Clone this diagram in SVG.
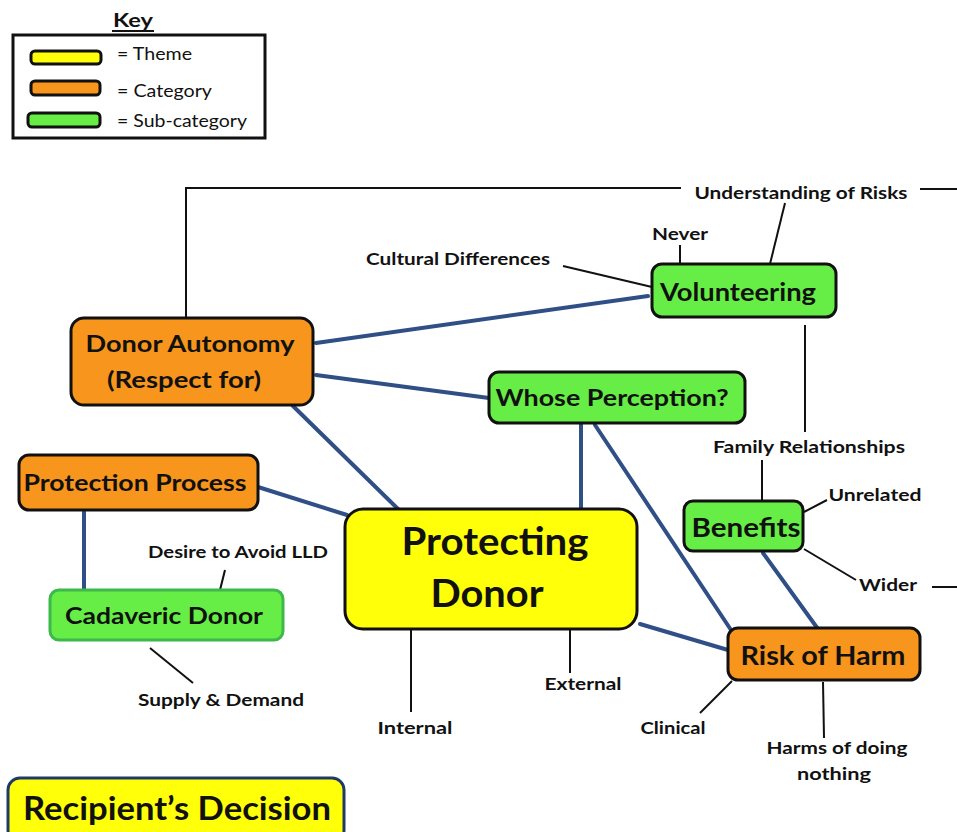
<svg xmlns="http://www.w3.org/2000/svg" width="957" height="832" viewBox="0 0 957 832">
<style>
.lbl{font-family:Lato,"Open Sans","Liberation Sans",sans-serif;font-weight:bold;font-size:17px;fill:#111;text-anchor:middle}
.ntx{font-family:Lato,"Open Sans","Liberation Sans",sans-serif;font-weight:bold;fill:#111;text-anchor:middle}
.key{font-family:Lato,"Open Sans","Liberation Sans",sans-serif;font-size:17px;fill:#111}
.orange{fill:#F7951C;stroke:#111;stroke-width:3}
.yellow{fill:#FFFF0A;stroke:#111;stroke-width:3}
.green{fill:#66EE46;stroke:#111;stroke-width:3}
.blue{stroke:#2F4F86;stroke-width:4;fill:none;stroke-linecap:round}
.thin{stroke:#111;stroke-width:2;fill:none}
</style>
<rect width="957" height="832" fill="#fff"/>
<g id="key">
<text class="ntx" x="133" y="27" font-size="19" textLength="40" lengthAdjust="spacingAndGlyphs">Key</text>
<line x1="112" y1="31" x2="154" y2="31" stroke="#111" stroke-width="2"/>
<rect x="13" y="35" width="252" height="103" fill="#fff" stroke="#111" stroke-width="3"/>
<rect x="31" y="51" width="70" height="13" rx="4" class="yellow" stroke-width="2.5"/>
<rect x="31" y="81" width="69" height="14" rx="4" class="orange" stroke-width="2.5"/>
<rect x="28" y="113" width="72" height="14" rx="4" class="green" stroke-width="2.5"/>
<text class="key" x="117" y="60" textLength="75" lengthAdjust="spacingAndGlyphs">= Theme</text>
<text class="key" x="117" y="97" textLength="95" lengthAdjust="spacingAndGlyphs">= Category</text>
<text class="key" x="117" y="127" textLength="130" lengthAdjust="spacingAndGlyphs">= Sub-category</text>
</g>
<g id="connectors">
<line class="blue" x1="316" y1="343" x2="648" y2="296"/>
<line class="blue" x1="316" y1="375" x2="489" y2="398"/>
<line class="blue" x1="293" y1="406" x2="398" y2="509"/>
<line class="blue" x1="258" y1="487" x2="347" y2="515"/>
<line class="blue" x1="84" y1="512" x2="84" y2="590"/>
<line class="blue" x1="581" y1="423" x2="581" y2="509"/>
<line class="blue" x1="595" y1="425" x2="731" y2="630"/>
<line class="blue" x1="640" y1="624" x2="728" y2="650"/>
<line class="blue" x1="763" y1="553" x2="818" y2="629"/>
<polyline class="thin" points="186,318 186,188 681,188"/>
<line class="thin" x1="920" y1="189" x2="957" y2="189"/>
<line class="thin" x1="785" y1="203" x2="770" y2="264"/>
<line class="thin" x1="680" y1="245" x2="680" y2="264"/>
<line class="thin" x1="563" y1="266" x2="652" y2="287"/>
<line class="thin" x1="805" y1="325" x2="805" y2="432"/>
<line class="thin" x1="762" y1="460" x2="762" y2="501"/>
<line class="thin" x1="804" y1="512" x2="827" y2="500"/>
<line class="thin" x1="804" y1="549" x2="856" y2="580"/>
<line class="thin" x1="932" y1="587" x2="957" y2="587"/>
<line class="thin" x1="732" y1="681" x2="700" y2="713"/>
<line class="thin" x1="823" y1="682" x2="824" y2="738"/>
<line class="thin" x1="411" y1="629" x2="411" y2="712"/>
<line class="thin" x1="570" y1="629" x2="570" y2="673"/>
<line class="thin" x1="225" y1="570" x2="220" y2="590"/>
<line class="thin" x1="150" y1="648" x2="193" y2="683"/>
</g>
<g id="labels">
<text class="lbl" x="801" y="199" textLength="213" lengthAdjust="spacingAndGlyphs">Understanding of Risks</text>
<text class="lbl" x="680" y="240" textLength="56" lengthAdjust="spacingAndGlyphs">Never</text>
<text class="lbl" x="458" y="265" textLength="184" lengthAdjust="spacingAndGlyphs">Cultural Differences</text>
<text class="lbl" x="809" y="453" textLength="192" lengthAdjust="spacingAndGlyphs">Family Relationships</text>
<text class="lbl" x="875" y="501" textLength="93" lengthAdjust="spacingAndGlyphs">Unrelated</text>
<text class="lbl" x="888" y="591" textLength="58" lengthAdjust="spacingAndGlyphs">Wider</text>
<text class="lbl" x="673" y="734" textLength="65" lengthAdjust="spacingAndGlyphs">Clinical</text>
<text class="lbl" x="837" y="754" textLength="141" lengthAdjust="spacingAndGlyphs">Harms of doing</text>
<text class="lbl" x="834" y="780" textLength="74" lengthAdjust="spacingAndGlyphs">nothing</text>
<text class="lbl" x="415" y="734" textLength="75" lengthAdjust="spacingAndGlyphs">Internal</text>
<text class="lbl" x="583" y="690" textLength="77" lengthAdjust="spacingAndGlyphs">External</text>
<text class="lbl" x="238" y="558" textLength="180" lengthAdjust="spacingAndGlyphs">Desire to Avoid LLD</text>
<text class="lbl" x="221" y="706" textLength="166" lengthAdjust="spacingAndGlyphs">Supply &amp; Demand</text>
</g>
<g id="donor-autonomy">
<rect x="71" y="318" width="242" height="87" rx="13" class="orange"/>
<text class="ntx" x="190" y="352" font-size="23" textLength="209" lengthAdjust="spacingAndGlyphs">Donor Autonomy</text>
<text class="ntx" x="184" y="388" font-size="23" textLength="154" lengthAdjust="spacingAndGlyphs">(Respect for)</text>
</g>
<g id="protection-process">
<rect x="19" y="455" width="239" height="55" rx="10" class="orange"/>
<text class="ntx" x="135" y="491" font-size="23" textLength="223" lengthAdjust="spacingAndGlyphs">Protection Process</text>
</g>
<g id="cadaveric-donor">
<rect x="50" y="590" width="233" height="50" rx="9" fill="#66EE46" stroke="#3DB84A" stroke-width="3"/>
<text class="ntx" x="164" y="624" font-size="23" textLength="198" lengthAdjust="spacingAndGlyphs">Cadaveric Donor</text>
</g>
<g id="protecting-donor">
<rect x="345" y="509" width="292" height="120" rx="18" class="yellow"/>
<text class="ntx" x="495" y="555" font-size="39" textLength="187" lengthAdjust="spacingAndGlyphs">Protecting</text>
<text class="ntx" x="487" y="607" font-size="39" textLength="113" lengthAdjust="spacingAndGlyphs">Donor</text>
</g>
<g id="whose-perception">
<rect x="489" y="372" width="256" height="51" rx="10" class="green"/>
<text class="ntx" x="612" y="406" font-size="23" textLength="233" lengthAdjust="spacingAndGlyphs">Whose Perception?</text>
</g>
<g id="volunteering">
<rect x="652" y="264" width="184" height="53" rx="10" class="green"/>
<text class="ntx" x="738" y="301" font-size="24" textLength="156" lengthAdjust="spacingAndGlyphs">Volunteering</text>
</g>
<g id="benefits">
<rect x="684" y="501" width="119" height="50" rx="9" class="green"/>
<text class="ntx" x="746" y="537" font-size="27" textLength="109" lengthAdjust="spacingAndGlyphs">Benefits</text>
</g>
<g id="risk-of-harm">
<rect x="728" y="628" width="192" height="52" rx="10" class="orange"/>
<text class="ntx" x="823" y="665" font-size="26" textLength="165" lengthAdjust="spacingAndGlyphs">Risk of Harm</text>
</g>
<g id="recipients-decision">
<rect x="8" y="778" width="336" height="64" rx="12" fill="#FFFF0A" stroke="#1F3A66" stroke-width="3"/>
<text class="ntx" x="177" y="820" font-size="32" textLength="308" lengthAdjust="spacingAndGlyphs">Recipient’s Decision</text>
</g>
</svg>
